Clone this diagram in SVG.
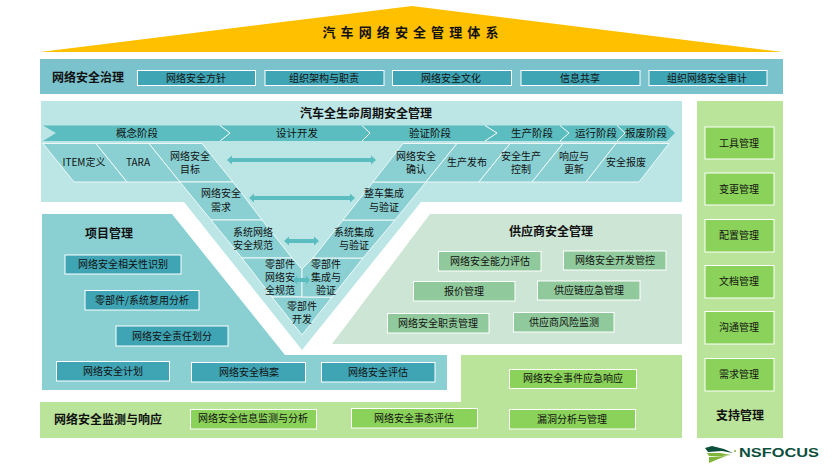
<svg xmlns="http://www.w3.org/2000/svg" width="832" height="470" viewBox="0 0 832 470">
<style>
text{font-family:"Noto Sans CJK SC","Liberation Sans",sans-serif;font-size:10px;fill:#111;text-anchor:middle}
.t{font-weight:700;font-size:12px}
.tl{font-weight:700;font-size:12px;text-anchor:start}
.ph{font-size:10.500px}
.blue{fill:#3FA5B5;stroke:#fff;stroke-width:1}
.sage{fill:#90C99B;stroke:#fff;stroke-width:1}
.lime{fill:#8AD25A;stroke:#fff;stroke-width:1}
.cell{fill:#8AD0D3;stroke:#fff;stroke-width:.8}
.chev{fill:#5CBDC0}
.sep{fill:none;stroke:#fff;stroke-width:1}
.arr{fill:#5CBDC0}
</style>
<rect width="832" height="470" fill="#fff"/>

<g id="title"><polygon points="40,52 412,6 783,52" fill="#FFC000"/><text x="413" y="37" style="font-size:13px;font-weight:700;letter-spacing:5.100px">汽车网络安全管理体系</text></g>

<g id="governance">
<rect x="40" y="59" width="743" height="35" fill="#7AC2CC"/>
<text class="tl" x="52" y="82">网络安全治理</text>
<rect class="blue" x="137.500" y="70.500" width="118" height="15"/><text x="196" y="81.500">网络安全方针</text>
<rect class="blue" x="265" y="70.500" width="119" height="15"/><text x="324" y="81.500">组织架构与职责</text>
<rect class="blue" x="392.500" y="70.500" width="119" height="15"/><text x="451" y="81.500">网络安全文化</text>
<rect class="blue" x="521" y="70.500" width="119" height="15"/><text x="580" y="81.500">信息共享</text>
<rect class="blue" x="649" y="70.500" width="118" height="15"/><text x="707" y="81.500">组织网络安全审计</text>
</g>

<g id="lifecycle-panel">
<polygon points="41,101 682,101 682,202 421,202 302,350 184,202 41,202" fill="#BCE5E5"/>
<text class="t" x="366" y="118">汽车全生命周期安全管理</text>
</g>

<g id="phases">
<polygon class="chev" points="43,125.500 667,125.500 675,133 667,141 43,141 56,133"/>
<polyline class="sep" points="220,125.500 230,133 220,141"/>
<polyline class="sep" points="362,125.500 370,133 362,141"/>
<polyline class="sep" points="485,125.500 497,133 485,141"/>
<polyline class="sep" points="560,125.500 569,133 560,141"/>
<polyline class="sep" points="617,125.500 625,133 617,141"/>
<text class="ph" x="137" y="136.500">概念阶段</text>
<text class="ph" x="297" y="136.500">设计开发</text>
<text class="ph" x="430" y="136.500">验证阶段</text>
<text class="ph" x="532" y="136.500">生产阶段</text>
<text class="ph" x="596" y="136.500">运行阶段</text>
<text class="ph" x="646" y="136.500">报废阶段</text>
</g>

<g id="item-def"><polygon class="cell" points="43,143.500 96,143.500 127,182 74,182"/><text x="84" y="166">ITEM定义</text></g>
<g id="tara"><polygon class="cell" points="96,143.500 149,143.500 180,182 127,182"/><text x="138" y="166">TARA</text></g>
<g id="goal"><polygon class="cell" points="149,143.500 202,143.500 233,182 180,182"/><text x="190" y="160">网络安全<tspan x="190" dy="13">目标</tspan></text></g>
<g id="req"><polygon class="cell" points="180,182 233,182 262,220 211,220"/><text x="221" y="197">网络安全<tspan x="221" dy="14">需求</tspan></text></g>
<g id="sys-spec"><polygon class="cell" points="211,220 262,220 292,258 242,258"/><text x="253" y="236">系统网络<tspan x="253" dy="13">安全规范</tspan></text></g>
<g id="part-spec"><polygon class="cell" points="242,258 292,258 302,269 302,297 272,297"/><text x="280" y="268">零部件<tspan x="280" dy="13">网络安</tspan><tspan x="280" dy="13">全规范</tspan></text></g>
<g id="part-dev"><polygon class="cell" points="272,297 332,297 302,335"/><text x="302" y="310">零部件<tspan x="302" dy="13">开发</tspan></text></g>
<g id="part-int"><polygon class="cell" points="302,269 313,258 363,258 332,297 302,297"/><text x="326" y="268">零部件<tspan x="326" dy="13">集成与</tspan><tspan x="326" dy="13">验证</tspan></text></g>
<g id="sys-int"><polygon class="cell" points="343,220 395,220 363,258 313,258"/><text x="354" y="236">系统集成<tspan x="354" dy="13">与验证</tspan></text></g>
<g id="veh-int"><polygon class="cell" points="373,182 426,182 395,220 343,220"/><text x="384" y="197">整车集成<tspan x="384" dy="14">与验证</tspan></text></g>
<g id="confirm"><polygon class="cell" points="403,143.500 457,143.500 426,182 373,182"/><text x="416" y="160">网络安全<tspan x="416" dy="13">确认</tspan></text></g>
<g id="release"><polygon class="cell" points="457,143.500 510,143.500 479,182 426,182"/><text x="467" y="166">生产发布</text></g>
<g id="prod-ctrl"><polygon class="cell" points="510,143.500 563,143.500 532,182 479,182"/><text x="521" y="160">安全生产<tspan x="521" dy="13">控制</tspan></text></g>
<g id="respond"><polygon class="cell" points="563,143.500 616,143.500 586,182 532,182"/><text x="574" y="160">响应与<tspan x="574" dy="13">更新</tspan></text></g>
<g id="scrap"><polygon class="cell" points="616,143.500 669,143.500 639,182 586,182"/><text x="626" y="166">安全报废</text></g>

<g id="connectors">
<polygon class="arr" points="227,160 232,155.500 232,158 371,158 371,155.500 376,160 371,164.500 371,162 232,162 232,164.500"/>
<polygon class="arr" points="249,198 254,193.500 254,196 350,196 350,193.500 355,198 350,202.500 350,200 254,200 254,202.500"/>
<polygon class="arr" points="284,241 289,236.500 289,239 314,239 314,236.500 319,241 314,245.500 314,243 289,243 289,245.500"/>
<polygon class="arr" points="293,280 297,275.500 297,278 306,278 306,275.500 310,280 306,284.500 306,282 297,282 297,284.500"/>
</g>

<g id="project">
<polygon points="42,214 172,214 285,355 447,355 447,390 42,390" fill="#8AD0D3"/>
<text class="t" x="109" y="238">项目管理</text>
<rect class="blue" x="65" y="255" width="116" height="19"/><text x="123" y="268">网络安全相关性识别</text>
<rect class="blue" x="85" y="290.500" width="114" height="19.500"/><text x="142" y="304">零部件/系统复用分析</text>
<rect class="blue" x="116" y="326" width="112" height="20"/><text x="172" y="339.500">网络安全责任划分</text>
<rect class="blue" x="56.500" y="361.500" width="113" height="19.500"/><text x="113" y="374.500">网络安全计划</text>
<rect class="blue" x="191.500" y="362.500" width="114" height="19.500"/><text x="249" y="376">网络安全档案</text>
<rect class="blue" x="321.500" y="362.500" width="113.500" height="19.500"/><text x="378" y="376">网络安全评估</text>
</g>

<g id="supplier">
<polygon points="430,214 682,214 682,344 332,344" fill="#CDE5D5"/>
<text class="t" x="551" y="236">供应商安全管理</text>
<rect class="sage" x="438.500" y="251.500" width="102.500" height="19.500"/><text x="490" y="265">网络安全能力评估</text>
<rect class="sage" x="563.500" y="251" width="102.500" height="19"/><text x="615" y="264">网络安全开发管控</text>
<rect class="sage" x="413.500" y="281.500" width="101.500" height="19.500"/><text x="464" y="295">报价管理</text>
<rect class="sage" x="537.500" y="281" width="102.500" height="19"/><text x="589" y="294">供应链应急管理</text>
<rect class="sage" x="387.500" y="313.500" width="101.500" height="19.500"/><text x="438" y="327">网络安全职责管理</text>
<rect class="sage" x="513.500" y="312.500" width="100.500" height="19.500"/><text x="564" y="326">供应商风险监测</text>
</g>

<g id="monitoring">
<polygon points="461,355 682,355 682,438 40,438 40,402 461,402" fill="#B9E49A"/>
<text class="tl" x="54" y="424">网络安全监测与响应</text>
<rect class="lime" x="190.500" y="409.500" width="126" height="19.500"/><text x="253" y="422">网络安全信息监测与分析</text>
<rect class="lime" x="351.500" y="408.500" width="126" height="19.500"/><text x="414" y="421.500">网络安全事态评估</text>
<rect class="lime" x="509.500" y="409.500" width="126" height="19.500"/><text x="572" y="422.500">漏洞分析与管理</text>
<rect class="lime" x="509.500" y="369.500" width="127" height="19"/><text x="573" y="382">网络安全事件应急响应</text>
</g>

<g id="support">
<rect x="697" y="101" width="86" height="337" fill="#B9E49A"/>
<rect class="lime" x="705" y="127" width="69" height="32"/><text x="739" y="146.500">工具管理</text>
<rect class="lime" x="705" y="173" width="69" height="32"/><text x="739" y="192.500">变更管理</text>
<rect class="lime" x="705" y="219.500" width="69" height="32.500"/><text x="739" y="239">配置管理</text>
<rect class="lime" x="705" y="265.500" width="69" height="32.500"/><text x="739" y="285">文档管理</text>
<rect class="lime" x="705" y="311.500" width="69" height="32.500"/><text x="739" y="331">沟通管理</text>
<rect class="lime" x="705" y="358.500" width="69" height="32.500"/><text x="739" y="378">需求管理</text>
<text class="t" x="740" y="420">支持管理</text>
</g>

<g id="logo">
<path d="M705,448 L712,446 L724,449 L733,453 L722,451 L708,452 Z" fill="#0C4F3D"/>
<path d="M707,453 L720,453 L731,455 L722,456 L709,456 Z" fill="#7FB539"/>
<path d="M709,457 L726,456 L716,460 L709,463 Z" fill="#7FB539"/>
<circle cx="735" cy="451" r="1" fill="#7FB539"/>
<text x="739" y="457" textLength="80" lengthAdjust="spacingAndGlyphs" style="font-family:'Liberation Sans',sans-serif;font-size:13px;font-weight:700;fill:#0C4F3D;text-anchor:start">NSFOCUS</text>
</g>
</svg>
